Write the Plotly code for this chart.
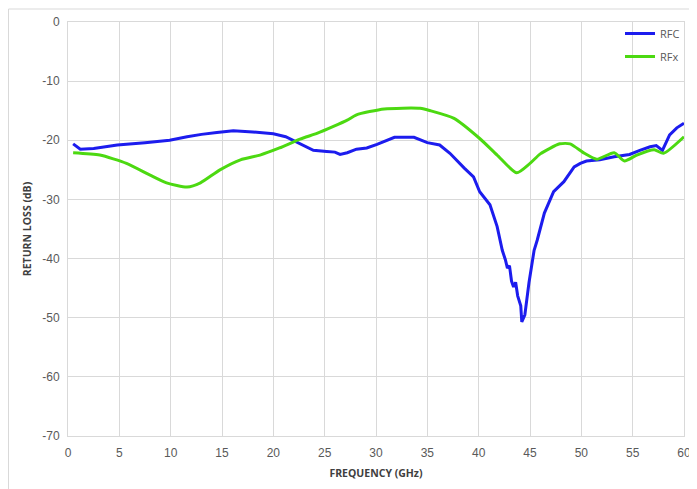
import plotly.graph_objects as go

rfc_freq = [0.5, 0.8, 1.2, 2.5, 4.8, 7.5, 9.9, 11.6, 13.0, 14.5, 16.1, 18.0, 20.0, 21.2, 21.9, 22.6, 23.9, 25.2, 26.0, 26.5, 27.2, 28.1, 29.1, 30.1, 31.0, 31.8, 33.7, 35.0, 36.2, 37.2, 38.6, 39.5, 40.1, 41.1, 41.8, 42.3, 42.6, 42.8, 43.0, 43.2, 43.4, 43.6, 43.8, 43.9, 44.1, 44.2, 44.5, 44.9, 45.4, 45.7, 46.4, 47.3, 48.3, 49.3, 49.9, 50.5, 51.8, 53.2, 54.7, 55.7, 56.7, 57.3, 57.9, 58.6, 59.3, 60.0]
rfc_db = [-20.6, -21.0, -21.5, -21.4, -20.8, -20.4, -20.0, -19.4, -19.0, -18.7, -18.4, -18.6, -18.9, -19.4, -20.0, -20.6, -21.7, -21.9, -22.0, -22.4, -22.1, -21.5, -21.3, -20.7, -20.1, -19.5, -19.5, -20.4, -20.8, -22.2, -24.7, -26.2, -28.7, -30.9, -34.6, -38.6, -40.2, -41.6, -41.2, -43.8, -44.8, -44.0, -46.3, -46.9, -48.0, -50.7, -49.5, -44.1, -38.6, -36.9, -32.3, -28.7, -27.0, -24.5, -23.9, -23.5, -23.3, -22.8, -22.4, -21.7, -21.1, -20.9, -21.7, -19.1, -17.9, -17.1]

rfx_freq = [0.5, 3.1, 5.7, 8.0, 9.6, 11.6, 12.9, 14.8, 16.8, 18.7, 20.6, 22.6, 24.3, 25.8, 27.2, 28.1, 30.8, 34.3, 35.3, 37.6, 40.1, 41.8, 43.7, 45.0, 46.0, 47.9, 48.9, 50.3, 51.5, 53.2, 54.2, 55.4, 57.1, 58.0, 60.0]
rfx_db = [-22.1, -22.5, -23.9, -25.9, -27.2, -27.9, -27.2, -25.0, -23.3, -22.5, -21.3, -19.8, -18.8, -17.7, -16.6, -15.7, -14.7, -14.6, -15.0, -16.3, -19.7, -22.5, -25.5, -23.9, -22.3, -20.6, -20.6, -22.2, -23.2, -22.1, -23.5, -22.5, -21.6, -22.2, -19.4]

x_ticks = [0, 5, 10, 15, 20, 25, 30, 35, 40, 45, 50, 55, 60]
y_ticks = [0, -10, -20, -30, -40, -50, -60, -70]

fig = go.Figure()
fig.add_trace(go.Scatter(x=rfc_freq, y=rfc_db, mode="lines", name="RFC", legendgroup="a",
                         line=dict(color="#1c1cee", width=3)))
fig.add_trace(go.Scatter(x=rfx_freq, y=rfx_db, mode="lines", name="RFx", legendgroup="b",
                         line=dict(color="#4cd911", width=3, shape="spline", smoothing=0.6)))

# page has an 8px body margin; figure is sized so the plot lands where the reference has it
OFF = 8
W, H = 697 - OFF, 489 - OFF
ml, mt = 68 - OFF, 22 - OFF
mr = W - (684 - OFF)
mb = H - (436 - OFF)
pw, ph = W - ml - mr, H - mt - mb

def px(xp):
    return (xp - OFF - ml) / pw

def py(yp):
    return (H - mb - (yp - OFF)) / ph

fig.add_shape(type="rect", xref="paper", yref="paper",
              x0=px(8.5), x1=px(720), y0=py(520), y1=py(9),
              line=dict(color="#d9d9d9", width=1), fillcolor="rgba(0,0,0,0)", layer="below")

fig.update_layout(
    width=W, height=H,
    margin=dict(l=ml, r=mr, t=mt, b=mb, autoexpand=False),
    plot_bgcolor="white", paper_bgcolor="white",
    showlegend=True,
    legend=dict(x=px(620), y=py(19), xanchor="left", yanchor="top",
                bgcolor="rgba(255,255,255,0)", traceorder="grouped", tracegroupgap=4,
                font=dict(family="Open Sans, Liberation Sans, sans-serif", size=11, color="#595959"),
                itemwidth=30),
    xaxis=dict(range=[0, 60], tickvals=x_ticks, ticktext=[str(v) for v in x_ticks],
               automargin=False, ticklabelstandoff=6,
               showgrid=True, gridcolor="#d9d9d9", gridwidth=1,
               showline=True, linecolor="#d9d9d9", mirror=True, zeroline=False,
               ticks="", tickfont=dict(family="Liberation Sans, Arial, sans-serif", size=12, color="#595959"),
               title=dict(text="<b>FREQUENCY (GHz)</b>", standoff=10,
                          font=dict(family="Open Sans, sans-serif", size=10.5, color="#404040"))),
    yaxis=dict(range=[-70, 0], tickvals=y_ticks, ticktext=[str(v) for v in y_ticks],
               automargin=False, ticklabelstandoff=5,
               showgrid=True, gridcolor="#d9d9d9", gridwidth=1,
               showline=True, linecolor="#d9d9d9", mirror=True, zeroline=False,
               ticks="", tickfont=dict(family="Liberation Sans, Arial, sans-serif", size=12, color="#595959"),
               title=dict(text="<b>RETURN LOSS (dB)</b>", standoff=8,
                          font=dict(family="Open Sans, sans-serif", size=10.5, color="#404040"))),
)

fig.write_html("out.html")
